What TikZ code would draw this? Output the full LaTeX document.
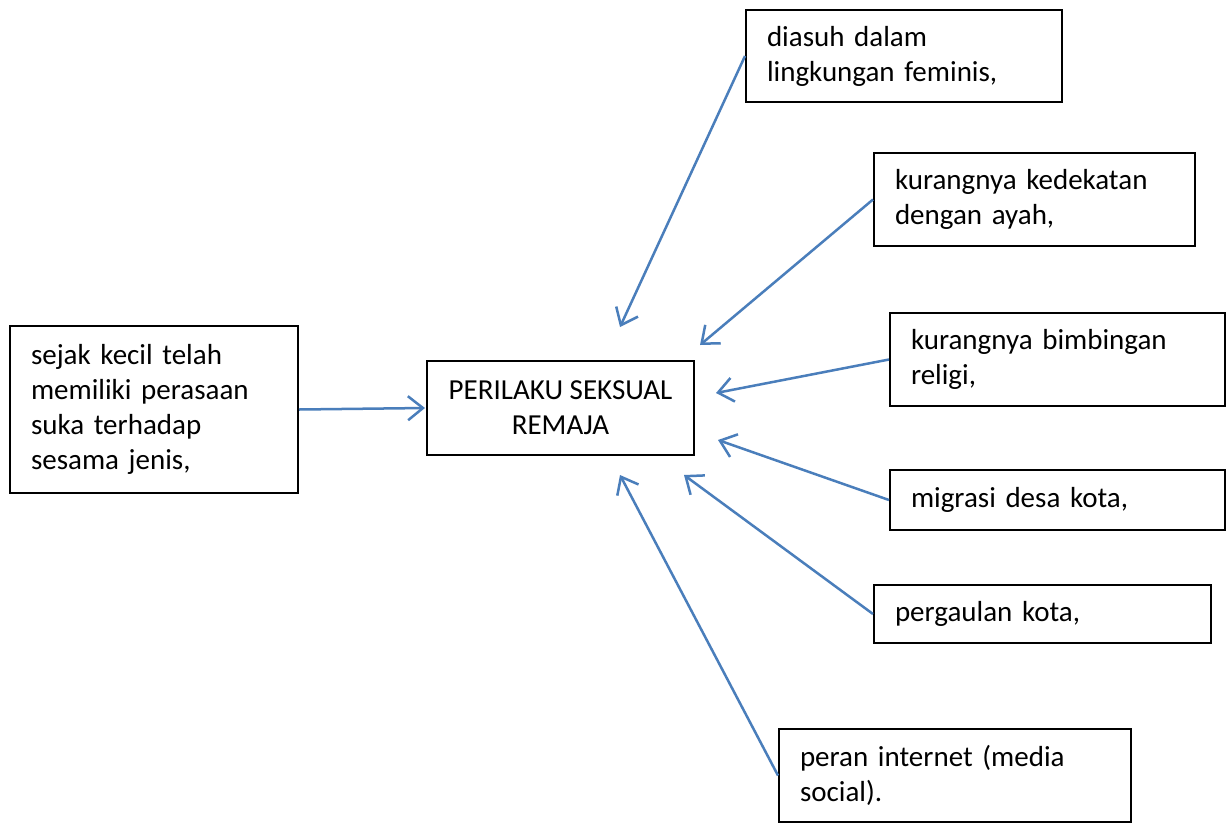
\documentclass[tikz,border=0pt]{standalone}
\usepackage{fontspec}
\setmainfont{Carlito}
\usetikzlibrary{arrows.meta}
\definecolor{arrblue}{RGB}{74,126,187}
\begin{document}
\begin{tikzpicture}[x=1pt,y=-1pt,
  box/.style={draw=black, line width=2pt, inner xsep=21pt, inner ysep=0pt, align=left,
    font=\fontsize{29}{35}\selectfont},
  cbox/.style={draw=black, line width=2pt, inner sep=0pt, align=center,
    font=\fontsize{29}{35}\selectfont},
  arr/.style={draw=arrblue, line width=2.5pt, -{Straight Barb[length=15pt,width=24pt]}}]
\useasboundingbox (0,0) rectangle (1227,823);
\fill[white] (0,0) rectangle (1227,823);
% center
\node[cbox, minimum width=267pt, minimum height=94pt] (c) at (560.5,408) {PERILAKU SEKSUAL\\REMAJA};
% left
\node[box, minimum width=288pt, minimum height=167pt, text width=246pt] (l) at (154,409.5)
  {sejak kecil telah\\memiliki perasaan\\suka terhadap\\sesama jenis,};
% right boxes
\node[box, minimum width=316pt, minimum height=92pt, text width=274pt] (b1) at (904,56)
  {diasuh dalam\\lingkungan feminis,};
\node[box, minimum width=321pt, minimum height=93pt, text width=279pt] (b2) at (1034.5,199.5)
  {kurangnya kedekatan\\dengan ayah,};
\node[box, minimum width=335pt, minimum height=93pt, text width=293pt] (b3) at (1057.5,359.5)
  {kurangnya bimbingan\\religi,};
\node[box, minimum width=335pt, minimum height=60pt, text width=293pt] (b4) at (1057.5,500)
  {migrasi desa kota,};
\node[box, minimum width=337pt, minimum height=58pt, text width=295pt] (b5) at (1042.5,614)
  {pergaulan kota,};
\node[box, minimum width=352pt, minimum height=93pt, text width=310pt] (b6) at (955,775.5)
  {peran internet (media\\social).};
% arrow tips
\coordinate (t0) at (425,408);
\coordinate (t1) at (620,327);
\coordinate (t2) at (700,345);
\coordinate (t3) at (716,393);
\coordinate (t4) at (718,440);
\coordinate (t5) at (684,475);
\coordinate (t6) at (620,475);
\draw[arr] (l.east) -- (t0);
\draw[arr] (b1.west) -- (t1);
\draw[arr] (b2.west) -- (t2);
\draw[arr] (b3.west) -- (t3);
\draw[arr] (b4.west) -- (t4);
\draw[arr] (b5.west) -- (t5);
\draw[arr] (b6.west) -- (t6);
\end{tikzpicture}
\end{document}
